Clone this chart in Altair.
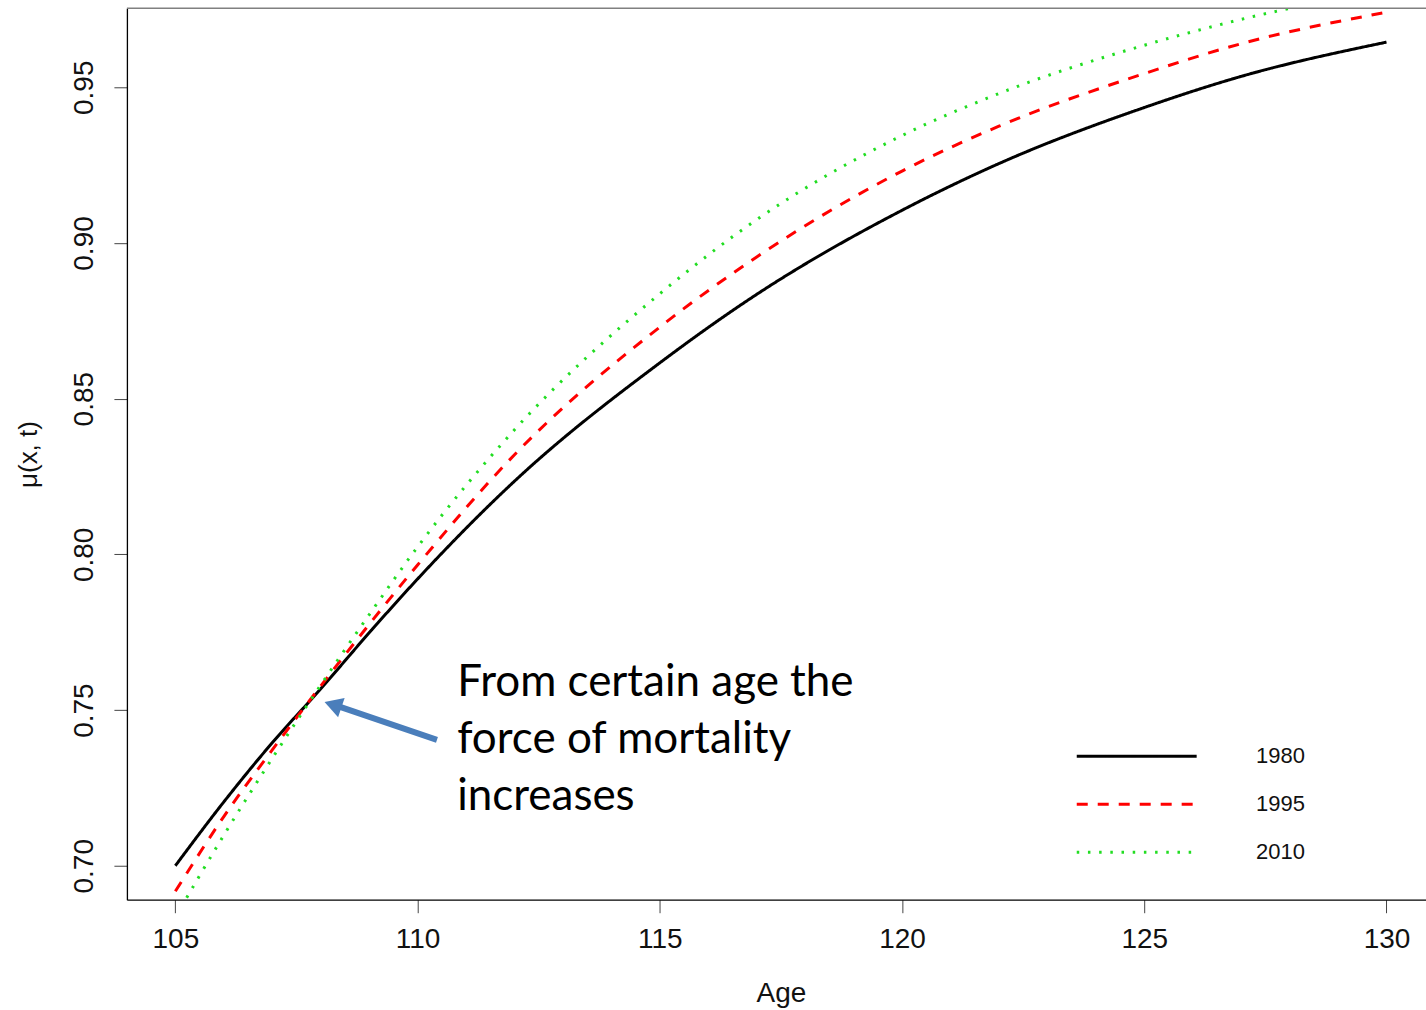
import altair as alt
import pandas as pd

# ---- data ----
ages = [105, 106, 107, 108, 109, 110, 112, 115, 117, 120, 122, 125, 127, 130]
mu_1980 = [0.700, 0.7205, 0.7395, 0.7568, 0.7748, 0.7921, 0.8235, 0.8615, 0.8835, 0.9105, 0.9255, 0.9435, 0.9535, 0.9645]
mu_1995 = [0.6918, 0.7158, 0.7372, 0.7577, 0.7775, 0.7966, 0.8320, 0.8730, 0.8955, 0.9231, 0.9375, 0.9544, 0.9640, 0.9741]
mu_2010 = [0.6835, 0.7098, 0.7345, 0.7580, 0.7806, 0.8024, 0.8400, 0.8837, 0.9075, 0.9345, 0.9480, 0.9635, 0.9718, 0.9815]
years = ["1980", "1995", "2010"]
x_ticks = [105, 110, 115, 120, 125, 130]
y_ticks = [0.70, 0.75, 0.80, 0.85, 0.90, 0.95]

note_lines = ["From certain age the", "force of mortality", "increases"]

rows = []
for yr, vals in zip(years, [mu_1980, mu_1995, mu_2010]):
    for a, v in zip(ages, vals):
        rows.append({"age": a, "mu": v, "year": yr})
df = pd.DataFrame(rows)

# ---- layout ----
W, H = 1300, 892
x_dom = [104, 104 + W / 48.48]
y_dom = [0.68909, 0.97535]
FONT = "Liberation Sans"

colors = ["#000000", "#ff0000", "#22dd22"]
dashes = [[1, 0], [11, 10], [2.5, 8.7]]

xs = alt.Scale(domain=x_dom, nice=False, zero=False)
ys = alt.Scale(domain=y_dom, nice=False, zero=False)

legend_def = alt.Legend(
    title=None, orient="none", legendX=989, legendY=727,
    symbolType="M-3,0H3", symbolSize=1600, symbolStrokeWidth=3,
    labelFont=FONT, labelFontSize=22, labelColor="#111",
    labelOffset=98, rowPadding=15, padding=0,
)

lines = alt.Chart(df).mark_line(strokeWidth=3, clip=True, interpolate="monotone").encode(
    x=alt.X("age:Q", scale=xs, axis=alt.Axis(
        values=x_ticks, format="d", title="Age", grid=False,
        domainColor="#000", domainWidth=1.3, tickColor="#444", tickSize=13,
        labelFont=FONT, labelFontSize=28, labelColor="#111", labelPadding=13,
        titleFont=FONT, titleFontSize=28, titleFontWeight="normal", titleColor="#111",
        titleX=654.5, titleY=80, titleBaseline="top", titleAlign="center",
    )),
    y=alt.Y("mu:Q", scale=ys, axis=alt.Axis(
        values=y_ticks, format=".2f", title="μ(x, t)", grid=False,
        domainColor="#000", domainWidth=1.3, tickColor="#444", tickSize=13,
        labelFont=FONT, labelFontSize=28, labelColor="#111", labelPadding=21,
        labelAngle=270, labelAlign="center", labelBaseline="alphabetic",
        titleFont=FONT, titleFontSize=26, titleFontWeight="normal", titleColor="#111",
        titleAngle=270, titleX=-98, titleY=446, titleAlign="center", titleBaseline="middle",
    )),
    color=alt.Color("year:N", scale=alt.Scale(domain=years, range=colors), legend=legend_def),
    strokeDash=alt.StrokeDash("year:N", scale=alt.Scale(domain=years, range=dashes), legend=legend_def),
)

# top frame line
top_rule = alt.Chart(pd.DataFrame({"k": [0]})).mark_rule(color="#808080", strokeWidth=1.5).encode(
    x=alt.value(0), x2=alt.value(W), y=alt.value(0)
)

# annotation arrow (data coordinates)
arrow_df = pd.DataFrame({"x": [110.40], "y": [0.7404], "x2": [108.40], "y2": [0.7510]})
shaft = alt.Chart(arrow_df).mark_rule(color="#4a7ebb", strokeWidth=6).encode(
    x=alt.X("x:Q", scale=xs), y=alt.Y("y:Q", scale=ys), x2="x2:Q", y2="y2:Q"
)
head_df = pd.DataFrame({"x": [108.311], "y": [0.75138]})
head = alt.Chart(head_df).mark_point(
    shape="triangle", size=420, filled=True, color="#4a7ebb", opacity=1, angle=288.6
).encode(x=alt.X("x:Q", scale=xs), y=alt.Y("y:Q", scale=ys))

note_df = pd.DataFrame({
    "text": note_lines,
    "x": [110.817] * 3,
    "y": [0.75873, 0.74044, 0.72214],
})
note = alt.Chart(note_df).mark_text(
    align="left", baseline="middle", font="Lato", fontSize=44, color="#000"
).encode(x=alt.X("x:Q", scale=xs), y=alt.Y("y:Q", scale=ys), text="text:N")

chart = alt.layer(lines, top_rule, shaft, head, note).properties(
    width=W, height=H,
    autosize=alt.AutoSizeParams(type="none"),
    padding={"left": 127, "top": 8, "right": 0, "bottom": 110},
    background="white",
).configure_view(stroke=None)

chart.save("out.html", embed_options={"renderer": "svg", "actions": False})
